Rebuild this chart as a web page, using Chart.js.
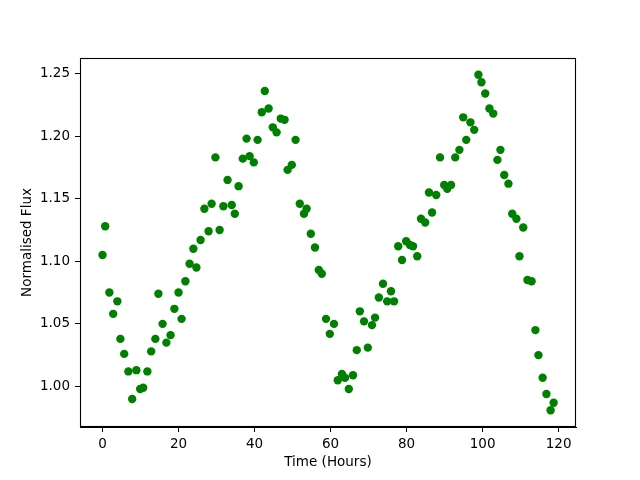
<!DOCTYPE html>
<html>
<head>
<meta charset="utf-8">
<script src="https://cdn.jsdelivr.net/npm/chart.js@4/dist/chart.umd.min.js"></script>
<style>
  html, body { margin: 0; padding: 0; background: #fff; }
  #wrap { width: 640px; height: 480px; }
</style>
</head>
<body>
<div id="wrap"><canvas id="fluxCanvas" width="640" height="480"></canvas></div>
<script>
// Light curve (hours, normalised flux)
const hours = [
    0.0, 0.7, 1.8, 2.8, 3.9, 4.7, 5.7, 6.8, 7.8, 8.9,
    9.9, 10.7, 11.8, 12.8, 13.9, 14.7, 15.8, 16.8, 17.9, 18.9,
    20.0, 20.8, 21.8, 22.9, 23.9, 24.7, 25.8, 26.8, 27.9, 28.7,
    29.7, 30.8, 31.8, 32.9, 34.0, 34.8, 35.8, 36.9, 37.9, 38.7,
    39.8, 40.8, 41.9, 42.7, 43.7, 44.8, 45.8, 46.9, 47.9, 48.7,
    49.8, 50.8, 51.9, 53.0, 53.7, 54.8, 55.9, 56.9, 57.7, 58.8,
    59.8, 60.9, 61.9, 63.0, 63.8, 64.8, 65.9, 66.9, 67.7, 68.8,
    69.8, 70.9, 71.7, 72.7, 73.8, 74.9, 75.9, 76.7, 77.8, 78.8,
    79.9, 80.9, 81.7, 82.8, 83.8, 84.9, 85.9, 86.7, 87.8, 88.8,
    89.9, 90.7, 91.7, 92.8, 93.9, 94.9, 95.7, 96.8, 97.8, 98.9,
    99.7, 100.7, 101.8, 102.8, 103.9, 104.7, 105.7, 106.8, 107.8, 108.9,
    109.7, 110.7, 111.8, 112.9, 113.9, 114.7, 115.8, 116.8, 117.9, 118.7
];
const flux = [
    1.105, 1.128, 1.075, 1.058, 1.068, 1.038, 1.026, 1.012, 0.990, 1.013,
    0.998, 0.999, 1.012, 1.028, 1.038, 1.074, 1.050, 1.035, 1.041, 1.062,
    1.075, 1.054, 1.084, 1.098, 1.110, 1.095, 1.117, 1.142, 1.124, 1.146,
    1.183, 1.125, 1.144, 1.165, 1.145, 1.138, 1.160, 1.182, 1.198, 1.184,
    1.179, 1.197, 1.219, 1.236, 1.222, 1.207, 1.203, 1.214, 1.213, 1.173,
    1.177, 1.197, 1.146, 1.138, 1.142, 1.122, 1.111, 1.093, 1.090, 1.054,
    1.042, 1.050, 1.005, 1.010, 1.007, 0.998, 1.009, 1.029, 1.060, 1.052,
    1.031, 1.049, 1.055, 1.071, 1.082, 1.068, 1.076, 1.068, 1.112, 1.101,
    1.116, 1.113, 1.112, 1.104, 1.134, 1.131, 1.155, 1.139, 1.153, 1.183,
    1.161, 1.158, 1.161, 1.183, 1.189, 1.215, 1.197, 1.211, 1.205, 1.249,
    1.243, 1.234, 1.222, 1.218, 1.181, 1.189, 1.169, 1.162, 1.138, 1.134,
    1.104, 1.127, 1.085, 1.084, 1.045, 1.025, 1.007, 0.994, 0.981, 0.987
];
const xTicks = [0, 20, 40, 60, 80, 100, 120];
const yTicks = [1.00, 1.05, 1.10, 1.15, 1.20, 1.25];

const fontFamily = "'DejaVu Sans', sans-serif";
const fontSize = 13.5;

// full box round the plot, like matplotlib spines
const frame = {
    id: "frame",
    afterDraw(chart) {
        const a = chart.chartArea;
        const c = chart.ctx;
        c.save();
        c.strokeStyle = "#000";
        c.lineWidth = 1.1;
        c.strokeRect(Math.round(a.left) + 0.5, Math.round(a.top) + 0.5,
            Math.round(a.right - a.left) - 1, Math.round(a.bottom - a.top) - 1);
        c.restore();
    },
};

const points = hours.map((h, i) => ({ x: h, y: flux[i] }));

const ctx = document.getElementById("fluxCanvas").getContext("2d");
const fluxChart = new Chart(ctx, {
    type: "scatter",
    data: {
        datasets: [{
            label: "Flux",
            data: points,
            backgroundColor: "#008000",
            borderColor: "#008000",
            borderWidth: 0,
            pointRadius: 4.2,
            pointHoverRadius: 4.2,
        }],
    },
    options: {
        responsive: false,
        animation: false,
        events: [],
        layout: { padding: { top: 58, right: 64, left: 0, bottom: 0 } },
        plugins: {
            legend: { display: false },
            tooltip: { enabled: false },
        },
        scales: {
            x: {
                type: "linear",
                min: -5.93,
                max: 124.58,
                afterFit: (s) => { s.height = 53; },
                afterBuildTicks: (s) => { s.ticks = xTicks.map((v) => ({ value: v })); },
                border: { display: true, color: "#000", width: 1 },
                grid: { drawOnChartArea: false, drawTicks: true, tickLength: 5, color: "#000", tickWidth: 1 },
                ticks: {
                    color: "#000",
                    padding: 4,
                    maxRotation: 0,
                    font: { family: fontFamily, size: fontSize },
                    callback: (v) => String(v),
                },
                title: {
                    display: true,
                    text: "Time (Hours)",
                    color: "#000",
                    font: { family: fontFamily, size: fontSize },
                    padding: { top: 9, bottom: 9 },
                },
            },
            y: {
                type: "linear",
                min: 0.9676,
                max: 1.2624,
                afterFit: (s) => { s.width = 80; },
                afterBuildTicks: (s) => { s.ticks = yTicks.map((v) => ({ value: v })); },
                border: { display: true, color: "#000", width: 1 },
                grid: { drawOnChartArea: false, drawTicks: true, tickLength: 5, color: "#000", tickWidth: 1 },
                ticks: {
                    color: "#000",
                    padding: 5,
                    font: { family: fontFamily, size: fontSize },
                    callback: (v) => Number(v).toFixed(2),
                },
                title: {
                    display: true,
                    text: "Normalised Flux",
                    color: "#000",
                    font: { family: fontFamily, size: fontSize },
                    padding: { top: 19, bottom: 19 },
                },
            },
        },
    },
    plugins: [frame],
});
</script>
</body>
</html>
